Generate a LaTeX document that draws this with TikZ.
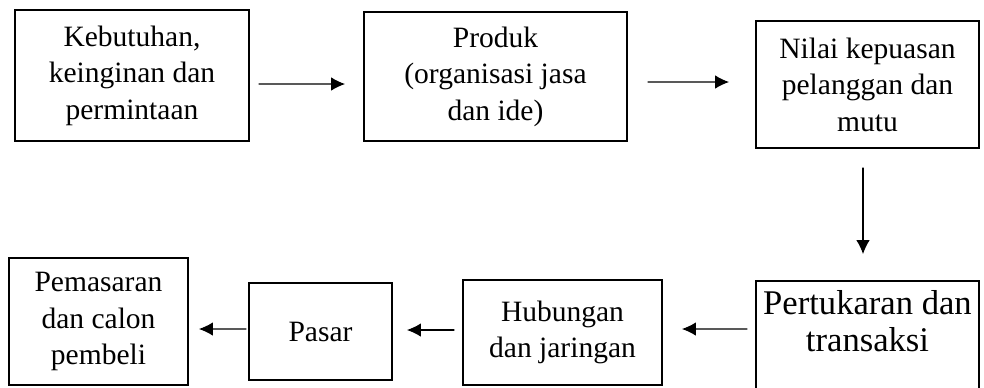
\documentclass[tikz,border=0pt]{standalone}
\usepackage{fontspec}
\setmainfont{Liberation Serif}
\usetikzlibrary{arrows.meta}

\begin{document}
\begin{tikzpicture}[%
        x = 0.02cm,
        y = -0.02cm,
        line cap = round,
        > = {Latex[length=0.28cm, width=0.27cm]},
        box/.style = {draw, line width = 1.1pt, inner sep = 0pt, align = center,
            font = \fontsize{16.8pt}{20.8pt}\selectfont},
        arr/.style = {->, line width = 0.6pt}
    ]

        % Page frame, the lowest box runs past it.
        \path[use as bounding box, clip] (0, 0) rectangle (984, 387);

        % Upper row of boxes.
        \node[box, minimum width = 4.68cm, minimum height = 2.62cm] (kebutuhan)
            at (132, 75.5) {Kebutuhan,\\keinginan dan\\permintaan};
        \node[box, minimum width = 5.26cm, minimum height = 2.58cm] (produk)
            at (495.5, 76.5) {Produk\\(organisasi jasa\\dan ide)};
        \node[box, minimum width = 4.46cm, minimum height = 2.54cm] (nilai)
            at (867.5, 84.5) {Nilai kepuasan\\pelanggan dan\\mutu};

        % Lower row of boxes.
        \node[box, minimum width = 4.46cm, minimum height = 2.56cm,
            font = \fontsize{19.7pt}{21pt}\selectfont] (pertukaran)
            at (867.5, 345) {Pertukaran dan\\transaksi\\ \strut};
        \node[box, minimum width = 3.98cm, minimum height = 2.10cm] (hubungan)
            at (562.5, 332.5) {Hubungan\\dan jaringan};
        \node[box, minimum width = 2.86cm, minimum height = 1.94cm] (pasar)
            at (320.5, 331.5) {Pasar};
        \node[box, minimum width = 3.58cm, minimum height = 2.54cm] (pemasaran)
            at (98.5, 321.5) {Pemasaran\\dan calon\\pembeli};

        % Arrows between the boxes.
        \draw[arr, shorten < = 0.18cm, shorten > = 0.36cm]
            ([yshift=-0.17cm]kebutuhan.east) to ([yshift=-0.15cm]produk.west);
        \draw[arr, shorten < = 0.40cm, shorten > = 0.52cm]
            ([yshift=-0.11cm]produk.east) to ([yshift=0.05cm]nilai.west);
        \draw[arr, shorten < = 0.38cm, shorten > = 0.52cm]
            ([xshift=-0.09cm]nilai.south) to ([xshift=-0.09cm]pertukaran.north);
        \draw[arr, shorten < = 0.16cm, shorten > = 0.38cm]
            ([yshift=0.32cm]pertukaran.west) to ([yshift=0.07cm]hubungan.east);
        \draw[arr, shorten < = 0.16cm, shorten > = 0.28cm]
            ([yshift=0.05cm]hubungan.west) to ([yshift=0.03cm]pasar.east);
        \draw[arr, shorten < = 0.04cm, shorten > = 0.20cm]
            ([yshift=0.05cm]pasar.west) to ([yshift=-0.15cm]pemasaran.east);
    \end{tikzpicture}
\end{document}
